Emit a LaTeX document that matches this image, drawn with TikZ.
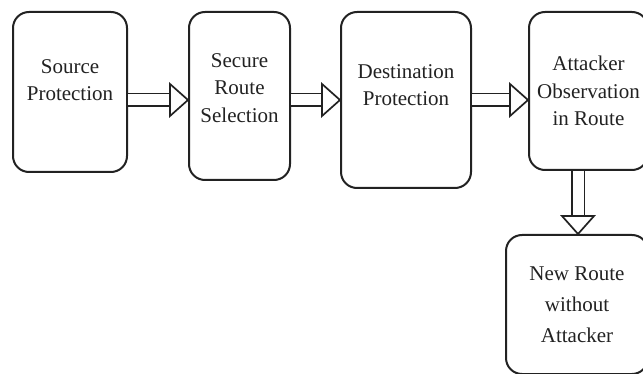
\documentclass[tikz,border=0pt]{standalone}
\usepackage{fontspec}
\setmainfont{Liberation Serif}
\usetikzlibrary{positioning,decorations.markings}
\definecolor{ink}{HTML}{222222}

\begin{document}
\begin{tikzpicture}[x=1pt,y=-1pt,
 box/.style={draw=ink,line width=2pt,rounded corners=16pt,fill=white,
 align=center,inner sep=0pt,text=ink,
 font=\fontsize{21}{27.5}\selectfont},
 dblarr/.style={draw=ink,line width=1.7pt,double=white,double distance=11pt,
 shorten >=16pt,
 postaction={decorate,decoration={markings,mark=at position 1 with
 {\draw[ink,line width=1.7pt,fill=white,line join=miter]
 (-18pt,-16pt) -- (0pt,0pt) -- (-18pt,16pt) -- cycle;}}}}]
\useasboundingbox (0,0) rectangle (643,374);
\node[box,minimum width=114pt,minimum height=160pt,text depth=24pt] (src) at (70,92)
 {Source\\Protection};
\node[box,minimum width=101pt,minimum height=168pt,text depth=16pt,
 right=60pt of src.north east,anchor=north west] (rsel) {Secure\\Route\\Selection};
\node[box,minimum width=130pt,minimum height=176pt,text depth=30pt,
 right=49pt of rsel.north east,anchor=north west] (dst) {Destination\\Protection};
\node[box,minimum width=119pt,minimum height=158pt,
 right=56pt of dst.north east,anchor=north west] (obs) {Attacker\\Observation\\in Route};
\node[box,minimum width=142pt,minimum height=139pt,font=\fontsize{21}{31}\selectfont,
 below=63pt of obs.south east,anchor=north east] (newr) {New Route\\without\\Attacker};
\coordinate (hline) at (0,100);
\coordinate (vline) at (578,0);
\draw[dblarr] (src.east |- hline) -- (rsel.west |- hline);
\draw[dblarr] (rsel.east |- hline) -- (dst.west |- hline);
\draw[dblarr] (dst.east |- hline) -- (obs.west |- hline);
\draw[dblarr] (obs.south -| vline) -- (newr.north -| vline);
\end{tikzpicture}
\end{document}
